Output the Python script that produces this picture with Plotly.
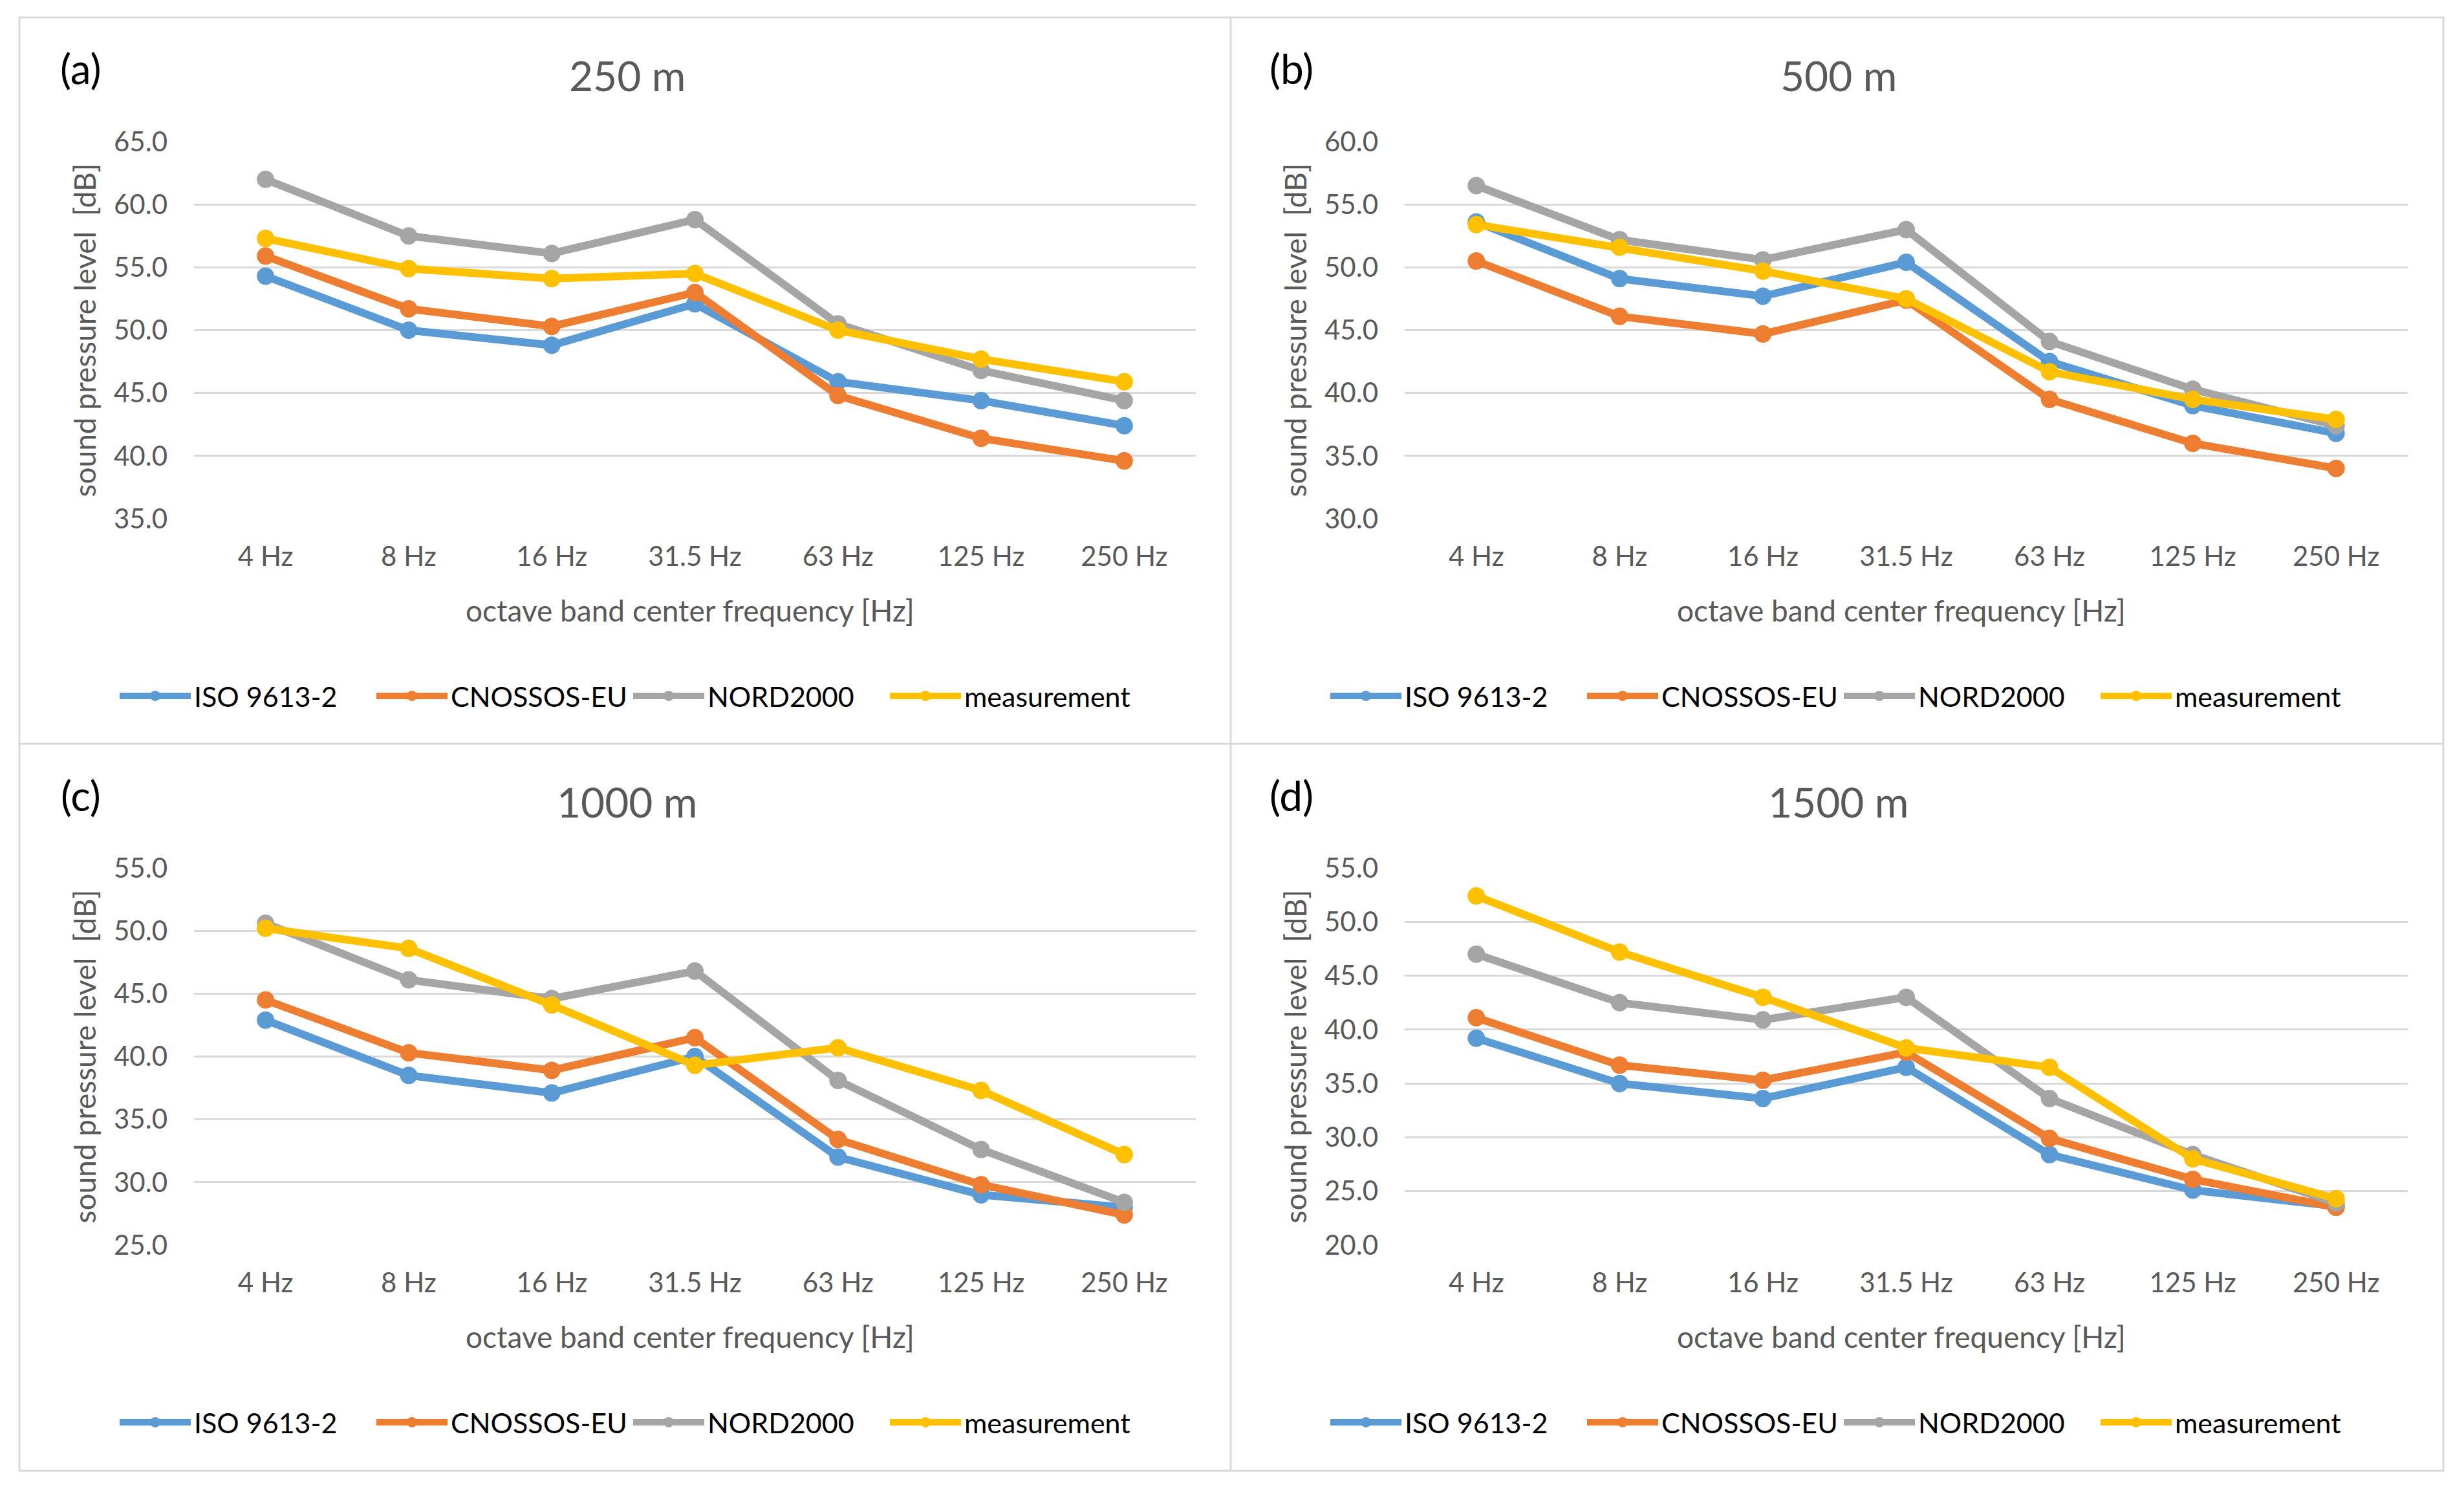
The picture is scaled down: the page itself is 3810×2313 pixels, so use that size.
import plotly.graph_objects as go

W, H = 3810, 2313

freqs = ["4 Hz", "8 Hz", "16 Hz", "31.5 Hz", "63 Hz", "125 Hz", "250 Hz"]
series_names = ["ISO 9613-2", "CNOSSOS-EU", "NORD2000", "measurement"]
colors = ["#5B9BD5", "#ED7D31", "#A5A5A5", "#FFC000"]

# panel (a) 250 m
iso_250 = [54.3, 50.0, 48.8, 52.1, 45.9, 44.4, 42.4]
cno_250 = [55.9, 51.7, 50.3, 53.0, 44.8, 41.4, 39.6]
nord_250 = [62.0, 57.5, 56.1, 58.8, 50.5, 46.8, 44.4]
meas_250 = [57.3, 54.9, 54.1, 54.5, 50.0, 47.7, 45.9]
# panel (b) 500 m
iso_500 = [53.6, 49.1, 47.7, 50.4, 42.5, 39.0, 36.8]
cno_500 = [50.5, 46.1, 44.7, 47.4, 39.5, 36.0, 34.0]
nord_500 = [56.5, 52.2, 50.6, 53.0, 44.1, 40.3, 37.4]
meas_500 = [53.4, 51.6, 49.7, 47.5, 41.7, 39.5, 37.9]
# panel (c) 1000 m
iso_1000 = [42.9, 38.5, 37.1, 40.0, 32.0, 29.0, 28.0]
cno_1000 = [44.5, 40.3, 38.9, 41.5, 33.4, 29.8, 27.4]
nord_1000 = [50.6, 46.1, 44.6, 46.8, 38.1, 32.6, 28.4]
meas_1000 = [50.2, 48.6, 44.1, 39.3, 40.7, 37.3, 32.2]
# panel (d) 1500 m
iso_1500 = [39.2, 35.0, 33.6, 36.5, 28.4, 25.1, 23.6]
cno_1500 = [41.1, 36.7, 35.3, 37.9, 29.9, 26.1, 23.5]
nord_1500 = [47.0, 42.5, 40.9, 43.0, 33.6, 28.4, 23.9]
meas_1500 = [52.4, 47.2, 43.0, 38.3, 36.5, 28.0, 24.3]

panel_titles = ["250 m", "500 m", "1000 m", "1500 m"]
panel_labels = ["(a)", "(b)", "(c)", "(d)"]
y_ranges = [(35, 65), (30, 60), (25, 55), (20, 55)]
panel_data = [
    [iso_250, cno_250, nord_250, meas_250],
    [iso_500, cno_500, nord_500, meas_500],
    [iso_1000, cno_1000, nord_1000, meas_1000],
    [iso_1500, cno_1500, nord_1500, meas_1500],
]

FONT = "Lato"
GRAY_TXT = "#595959"
GRID = "#D9D9D9"
OFF = 8  # page body margin compensation


def px(xp):
    return (xp - OFF) / W


def py(yp):
    return 1 - (yp - OFF) / H


# plot-area pixel boxes (x0, x1, ytop, ybottom)
boxes = [
    (300, 1849, 219, 802),
    (2172, 3723, 219, 802),
    (300, 1849, 1342, 1925),
    (2172, 3723, 1342, 1925),
]

fig = go.Figure()
layout = dict(
    width=W, height=H,
    margin=dict(l=0, r=0, t=0, b=0, autoexpand=False),
    paper_bgcolor="white", plot_bgcolor="white",
    showlegend=True,
    font=dict(family=FONT, color=GRAY_TXT),
)
annotations = []
shapes = []

for i in range(4):
    x0, x1, yt, yb = boxes[i]
    ax = "" if i == 0 else str(i + 1)
    lg = "legend" if i == 0 else "legend" + str(i + 1)
    for s in range(4):
        fig.add_trace(go.Scatter(
            x=freqs, y=panel_data[i][s], name=series_names[s],
            mode="lines+markers",
            line=dict(color=colors[s], width=12),
            marker=dict(color=colors[s], size=27),
            xaxis="x" + ax, yaxis="y" + ax, legend=lg,
            hoverinfo="skip",
        ))
    layout["xaxis" + ax] = dict(
        domain=[px(x0), px(x1)], anchor="y" + ax,
        type="category", range=[-0.5, 6.5],
        showgrid=False, zeroline=False, showline=False, ticks="",
        tickfont=dict(family=FONT, size=42, color=GRAY_TXT),
        ticklabelstandoff=30, fixedrange=True,
    )
    ymin, ymax = y_ranges[i]
    layout["yaxis" + ax] = dict(
        domain=[py(yb), py(yt)], anchor="x" + ax,
        range=[ymin, ymax], dtick=5, tick0=0, tickformat=".1f",
        showgrid=True, gridcolor=GRID, gridwidth=3,
        zeroline=False, showline=False, ticks="",
        tickfont=dict(family=FONT, size=42, color=GRAY_TXT),
        ticklabelstandoff=40, fixedrange=True,
    )
    cx = (x0 + x1) / 2
    # legend
    layout[lg] = dict(
        orientation="h", x=px(x0 - 120), y=py(yb + 274), xanchor="left", yanchor="middle",
        font=dict(family=FONT, size=43, color="#000000"),
        bgcolor="rgba(0,0,0,0)", itemwidth=110, traceorder="normal",
        entrywidth=272, entrywidthmode="pixels",
    )
    # chart title
    annotations.append(dict(
        text=panel_titles[i], x=px(cx - 105), y=py(yt - 103), xref="paper", yref="paper",
        showarrow=False, xanchor="center", yanchor="middle",
        font=dict(family=FONT, size=64, color=GRAY_TXT),
    ))
    # panel label
    annotations.append(dict(
        text=panel_labels[i], x=px(x0 - 175), y=py(yt - 113), xref="paper", yref="paper",
        showarrow=False, xanchor="center", yanchor="middle",
        font=dict(family=FONT, size=64, color="#000000"),
    ))
    # x axis title
    annotations.append(dict(
        text="octave band center frequency [Hz]", x=px(cx - 8), y=py(yb + 141),
        xref="paper", yref="paper", showarrow=False, xanchor="center", yanchor="middle",
        font=dict(family=FONT, size=46, color=GRAY_TXT),
    ))
    # y axis title
    annotations.append(dict(
        text="sound pressure level\u00a0 [dB]", x=px(x0 - 170), y=py((yt + yb) / 2),
        xref="paper", yref="paper", showarrow=False, xanchor="center", yanchor="middle",
        textangle=-90, font=dict(family=FONT, size=46, color=GRAY_TXT),
    ))

# chart-area borders
border = dict(color=GRID, width=3)
shapes.append(dict(type="rect", xref="paper", yref="paper",
                   x0=px(30), x1=px(3778), y0=py(2274), y1=py(27), line=border))
shapes.append(dict(type="line", xref="paper", yref="paper",
                   x0=px(1903), x1=px(1903), y0=py(2274), y1=py(27), line=border))
shapes.append(dict(type="line", xref="paper", yref="paper",
                   x0=px(30), x1=px(3778), y0=py(1150), y1=py(1150), line=border))

layout["annotations"] = annotations
layout["shapes"] = shapes
fig.update_layout(**layout)
fig.write_html("out.html")
